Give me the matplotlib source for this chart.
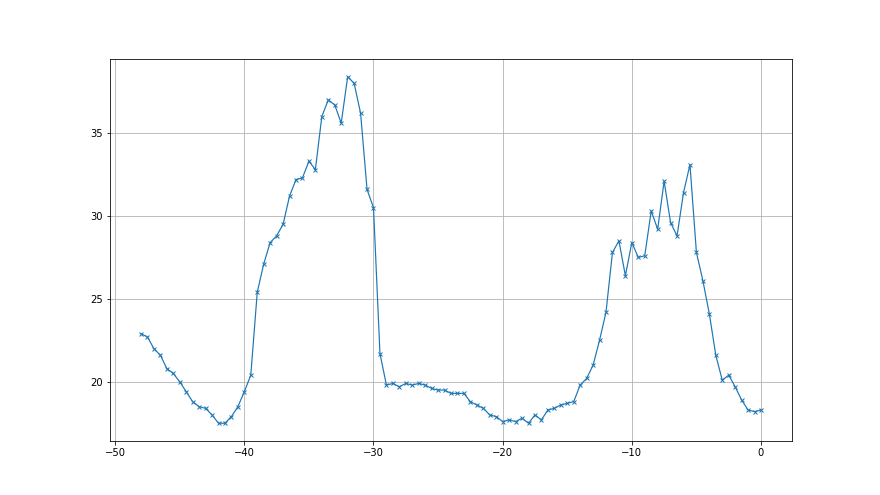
import numpy as np
import matplotlib
matplotlib.use("Agg")
import matplotlib.pyplot as plt

# sample positions, every half step from -48 to 0
x = np.arange(-48, 0.5, 0.5)

y = [22.9, 22.7, 22.0, 21.6, 20.8, 20.5, 20.0, 19.4, 18.8, 18.5,
     18.4, 18.0, 17.5, 17.5, 17.9, 18.5, 19.4, 20.4, 25.4, 27.1,
     28.4, 28.8, 29.5, 31.2, 32.2, 32.3, 33.3, 32.8, 36.0, 37.0,
     36.7, 35.6, 38.4, 38.0, 36.2, 31.6, 30.5, 21.7, 19.8, 19.9,
     19.7, 19.9, 19.8, 19.9, 19.8, 19.6, 19.5, 19.5, 19.3, 19.3,
     19.3, 18.8, 18.6, 18.4, 18.0, 17.9, 17.6, 17.7, 17.6, 17.8,
     17.5, 18.0, 17.7, 18.3, 18.4, 18.6, 18.7, 18.8, 19.8, 20.2,
     21.0, 22.5, 24.2, 27.8, 28.5, 26.4, 28.4, 27.5, 27.6, 30.3,
     29.2, 32.1, 29.6, 28.8, 31.4, 33.1, 27.8, 26.1, 24.1, 21.6,
     20.1, 20.4, 19.7, 18.9, 18.3, 18.2, 18.3]

fig = plt.figure(figsize=(880 / 72, 495 / 72), dpi=72)
ax = fig.add_subplot(111)
ax.plot(x, y, marker='x', markersize=4, linewidth=1.2, color='#1f77b4')
ax.grid(True, color='#b0b0b0', linewidth=0.8)

fig.savefig("out.png", dpi=72)
